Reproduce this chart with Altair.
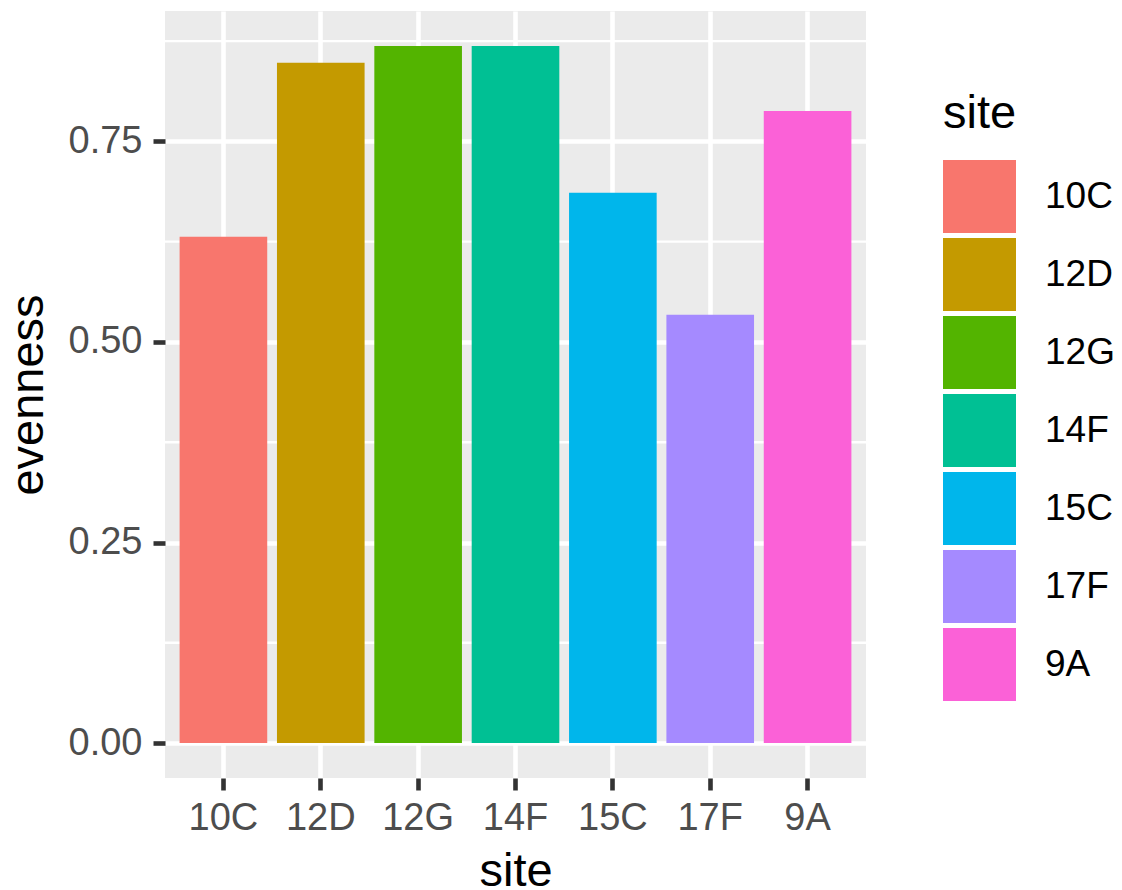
import altair as alt
import pandas as pd

sites = ["10C", "12D", "12G", "14F", "15C", "17F", "9A"]
evenness = [0.631, 0.848, 0.869, 0.869, 0.686, 0.534, 0.788]
colors = ["#F8766D", "#C49A00", "#53B400", "#00C094", "#00B6EB", "#A58AFF", "#FB61D7"]
major_ticks = [0.0, 0.25, 0.5, 0.75]
minor_ticks = [0.125, 0.375, 0.625, 0.875]

df = pd.DataFrame({"site": sites, "evenness": evenness})
minor_df = pd.DataFrame({"evenness": minor_ticks})

FONT = "Liberation Sans"
ydomain = [-0.0435, 0.9125]
yscale = alt.Scale(domain=ydomain, nice=False, zero=False)

yaxis = alt.Axis(
    title="evenness",
    values=major_ticks,
    format=".2f",
    grid=True,
    gridColor="white",
    gridWidth=4.6,
    domain=False,
    tickSize=12,
    tickWidth=4.6,
    tickColor="#333333",
    labelFont=FONT,
    labelFontSize=38,
    labelColor="#4D4D4D",
    labelPadding=11,
    titleFont=FONT,
    titleFontSize=47,
    titleFontWeight="normal",
    titleColor="black",
    titlePadding=16,
)

minor = alt.Chart(minor_df).mark_rule(color="white", strokeWidth=2.4).encode(
    y=alt.Y("evenness:Q", scale=yscale, axis=yaxis)
)

bars = alt.Chart(df).mark_bar(strokeWidth=0).encode(
    x=alt.X(
        "site:N",
        sort=sites,
        scale=alt.Scale(paddingInner=0.1, paddingOuter=0.15),
        axis=alt.Axis(
            title="site",
            grid=True,
            gridColor="white",
            gridWidth=4.6,
            bandPosition=0.5,
            domain=False,
            ticks=True,
            tickSize=12,
            tickWidth=4.6,
            tickColor="#333333",
            labelFont=FONT,
            labelFontSize=38,
            labelColor="#4D4D4D",
            labelPadding=9,
            labelAngle=0,
            titleFont=FONT,
            titleFontSize=47,
            titleFontWeight="normal",
            titleColor="black",
            titlePadding=11,
        ),
    ),
    y=alt.Y("evenness:Q", scale=yscale, axis=yaxis),
    color=alt.Color(
        "site:N",
        sort=sites,
        scale=alt.Scale(domain=sites, range=colors),
        legend=alt.Legend(
            title="site",
            orient="none",
            legendX=778,
            legendY=80,
            padding=0,
            symbolType="square",
            symbolSize=5329,
            symbolStrokeWidth=0,
            symbolOpacity=1,
            rowPadding=5,
            labelOffset=29,
            labelFont=FONT,
            labelFontSize=37,
            labelColor="black",
            titleFont=FONT,
            titleFontSize=47,
            titleFontWeight="normal",
            titleColor="black",
            titlePadding=22,
        ),
    ),
)

chart = (
    alt.layer(minor, bars)
    .properties(
        width=701,
        height=767,
        autosize=alt.AutoSizeParams(type="none"),
        padding={"left": 157, "top": 3, "right": 248, "bottom": 112},
    )
    .configure(background="white")
    .configure_view(fill="#EBEBEB", strokeWidth=0)
)

chart.save("out.html", embed_options={"renderer": "svg", "actions": False})
